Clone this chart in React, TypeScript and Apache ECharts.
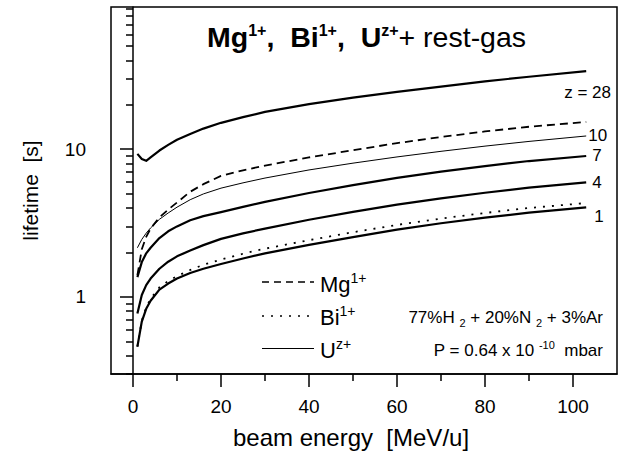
import React, { useEffect, useRef } from 'react';
import * as echarts from 'echarts';

// beam energy [MeV/u]
const energy = [1, 2, 3, 4, 6, 8, 10, 13, 16, 20, 25, 30, 40, 50, 60, 70, 80, 90, 103];
// lifetime [s]
const mgLife = [1.4, 2.1, 2.55, 2.9, 3.45, 3.9, 4.36, 5.15, 5.8, 6.6, 7.2, 7.75, 8.8, 9.85, 11.0, 12.1, 13.2, 14.2, 15.3];
const biLife = [0.46, 0.69, 0.85, 0.97, 1.16, 1.28, 1.38, 1.52, 1.65, 1.79, 1.96, 2.12, 2.42, 2.74, 3.07, 3.39, 3.7, 4.0, 4.32];
const uZ28Life = [9.3, 8.6, 8.35, 8.8, 9.8, 10.7, 11.6, 12.7, 13.8, 15.1, 16.5, 17.9, 20.2, 22.4, 24.5, 26.6, 28.8, 31.0, 33.8];
const uZ10Life = [2.15, 2.45, 2.7, 2.93, 3.35, 3.7, 4.05, 4.55, 4.98, 5.45, 5.92, 6.38, 7.24, 8.05, 8.87, 9.68, 10.5, 11.3, 12.3];
const uZ7Life = [1.36, 1.72, 1.97, 2.15, 2.5, 2.78, 3.0, 3.3, 3.52, 3.75, 4.07, 4.4, 5.05, 5.71, 6.4, 7.05, 7.69, 8.32, 9.0];
const uZ4Life = [0.77, 1.03, 1.2, 1.33, 1.55, 1.73, 1.88, 2.06, 2.24, 2.47, 2.69, 2.9, 3.33, 3.76, 4.21, 4.65, 5.07, 5.5, 5.96];
const uZ1Life = [0.46, 0.68, 0.83, 0.94, 1.12, 1.23, 1.33, 1.45, 1.55, 1.67, 1.82, 1.97, 2.25, 2.54, 2.85, 3.15, 3.44, 3.72, 4.04];

const xMajorTicks = [0, 20, 40, 60, 80, 100];
const xMinorTicks = [10, 30, 50, 70, 90];
const yMajorTicks = [1, 10];
const yMinorTicks = [0.3, 0.4, 0.5, 0.6, 0.7, 0.8, 0.9, 2, 3, 4, 5, 6, 7, 8, 9, 20, 30, 40, 50, 60, 70, 80, 90];

const FONT = "'Liberation Sans', Arial, Helvetica, sans-serif";

const pairs = (ys: number[]) => energy.map((x, i) => [x, ys[i]]);

export default function App() {
  const ref = useRef<HTMLDivElement>(null);
  useEffect(() => {
    if (!ref.current) return;
    const chart = echarts.init(ref.current, null, { renderer: 'svg' });
    const black = '#000';
    const thick = 2.2;
    const endLbl = (text: string, distance: number, offset: number[] = [0, 0]) => ({
      show: true,
      formatter: text,
      distance,
      offset,
      fontSize: 17,
      fontFamily: FONT,
      color: black,
    });
    const line = (name: string, ys: number[], lineStyle: any, endLabel?: any) => ({
      type: 'line',
      name,
      data: pairs(ys),
      symbol: 'none',
      smooth: false,
      lineStyle: { color: black, join: 'round', ...lineStyle },
      itemStyle: { color: black },
      endLabel: endLabel || { show: false },
      labelLayout: { hideOverlap: false },
      silent: true,
    });
    const tickText = { fontSize: 19, fontFamily: FONT, color: black };
    const supRich = (size: number, sup: number) => ({
      t: { fontSize: size, fontFamily: FONT, lineHeight: size + 5, fill: black },
      s: { fontSize: sup, fontFamily: FONT, verticalAlign: 'top', lineHeight: sup, fill: black },
    });
    chart.setOption({
      animation: false,
      backgroundColor: '#fff',
      grid: {
        left: 111,
        right: 6,
        top: 7,
        bottom: 78,
        show: true,
        borderColor: black,
        borderWidth: 1.5,
      },
      xAxis: [
        {
          type: 'value',
          min: -5,
          max: 110,
          name: 'beam energy  [MeV/u]',
          nameLocation: 'middle',
          nameGap: 51,
          nameTextStyle: { fontSize: 24, fontFamily: FONT, color: black, padding: [0, 26, 0, 0] },
          axisLine: { show: true, lineStyle: { color: black, width: 1.5 } },
          axisTick: { show: true, customValues: xMajorTicks, length: 13, lineStyle: { color: black, width: 1.5 } },
          axisLabel: { show: true, customValues: xMajorTicks, margin: 23, ...tickText },
          splitLine: { show: false },
        },
        {
          type: 'value',
          min: -5,
          max: 110,
          position: 'bottom',
          axisLine: { show: false },
          axisTick: { show: true, customValues: xMinorTicks, length: 7, lineStyle: { color: black, width: 1.5 } },
          axisLabel: { show: false },
          splitLine: { show: false },
        },
      ],
      yAxis: [
        {
          type: 'log',
          logBase: 10,
          min: 0.3,
          max: 92,
          name: 'lifetime  [s]',
          nameLocation: 'middle',
          nameGap: 70,
          nameRotate: 90,
          nameTextStyle: { fontSize: 21, fontFamily: FONT, color: black },
          axisLine: { show: true, lineStyle: { color: black, width: 1.5 } },
          axisTick: { show: true, customValues: yMajorTicks, length: 13, lineStyle: { color: black, width: 1.5 } },
          axisLabel: { show: true, customValues: yMajorTicks, margin: 25, ...tickText },
          splitLine: { show: false },
          minorTick: { show: false },
        },
        {
          type: 'log',
          logBase: 10,
          min: 0.3,
          max: 92,
          position: 'left',
          axisLine: { show: false },
          axisTick: { show: true, customValues: yMinorTicks, length: 7, lineStyle: { color: black, width: 1.5 } },
          axisLabel: { show: false },
          splitLine: { show: false },
        },
      ],
      series: [
        line('U z=28', uZ28Life, { width: thick }, endLbl('z = 28', 5, [-27, 21])),
        line('Mg', mgLife, { width: 1.8, type: [8, 5] }),
        line('U', uZ10Life, { width: 1 }, endLbl('10', 2)),
        line('U z=7', uZ7Life, { width: thick }, endLbl('7', 6)),
        line('U z=4', uZ4Life, { width: thick }, endLbl('4', 6)),
        line('U z=1', uZ1Life, { width: thick }, endLbl('1', 8, [0, 9])),
        line('Bi', biLife, { width: 1.8, type: [2, 7] }),
      ],
      graphic: [
        {
          type: 'text',
          x: 207,
          y: 37,
          style: {
            text: '{b|Mg}{bs|1+}{b|,  Bi}{bs|1+}{b|,  U}{bs|z+}{n|+ rest-gas}',
            verticalAlign: 'middle',
            fill: black,
            rich: {
              b: { fontSize: 28.5, fontWeight: 'bold', fontFamily: FONT, lineHeight: 30, fill: black },
              bs: { fontSize: 16, fontWeight: 'bold', fontFamily: FONT, verticalAlign: 'top', lineHeight: 16, fill: black },
              n: { fontSize: 28.5, fontFamily: FONT, lineHeight: 30, fill: black },
            },
          },
        },
        // legend keys
        { type: 'line', shape: { x1: 262, y1: 282, x2: 314, y2: 282 }, style: { stroke: black, lineWidth: 1.6, lineDash: [7, 5] } },
        { type: 'line', shape: { x1: 262, y1: 316, x2: 314, y2: 316 }, style: { stroke: black, lineWidth: 1.6, lineDash: [2, 7] } },
        { type: 'line', shape: { x1: 262, y1: 348.5, x2: 314, y2: 348.5 }, style: { stroke: black, lineWidth: 1 } },
        {
          type: 'text', x: 320, y: 284,
          style: { text: '{t|Mg}{s|1+}', verticalAlign: 'middle', fill: black, rich: supRich(22, 14) },
        },
        {
          type: 'text', x: 320, y: 317,
          style: { text: '{t|Bi}{s|1+}', verticalAlign: 'middle', fill: black, rich: supRich(22, 14) },
        },
        {
          type: 'text', x: 320, y: 350,
          style: { text: '{t|U}{s|z+}', verticalAlign: 'middle', fill: black, rich: supRich(22, 14) },
        },
        // gas annotation
        {
          type: 'text', x: 603, y: 317,
          style: {
            text: '{t|77%H }{u|2}{t| + 20%N }{u|2}{t| + 3%Ar}', align: 'right', verticalAlign: 'middle', fill: black,
            rich: {
              t: { fontSize: 17, fontFamily: FONT, lineHeight: 22, fill: black },
              u: { fontSize: 11, fontFamily: FONT, verticalAlign: 'bottom', lineHeight: 11, fill: black },
            },
          },
        },
        {
          type: 'text', x: 603, y: 350,
          style: {
            text: '{t|P = 0.64 x 10 }{u|-10}{t|  mbar}', align: 'right', verticalAlign: 'middle', fill: black,
            rich: {
              t: { fontSize: 17, fontFamily: FONT, lineHeight: 22, fill: black },
              u: { fontSize: 11, fontFamily: FONT, verticalAlign: 'top', lineHeight: 11, fill: black },
            },
          },
        },
      ],
    });
    return () => chart.dispose();
  }, []);
  return (
    <div
      ref={ref}
      style={{ position: 'fixed', left: 0, top: 0, width: 623, height: 454, background: '#fff' }}
    />
  );
}
